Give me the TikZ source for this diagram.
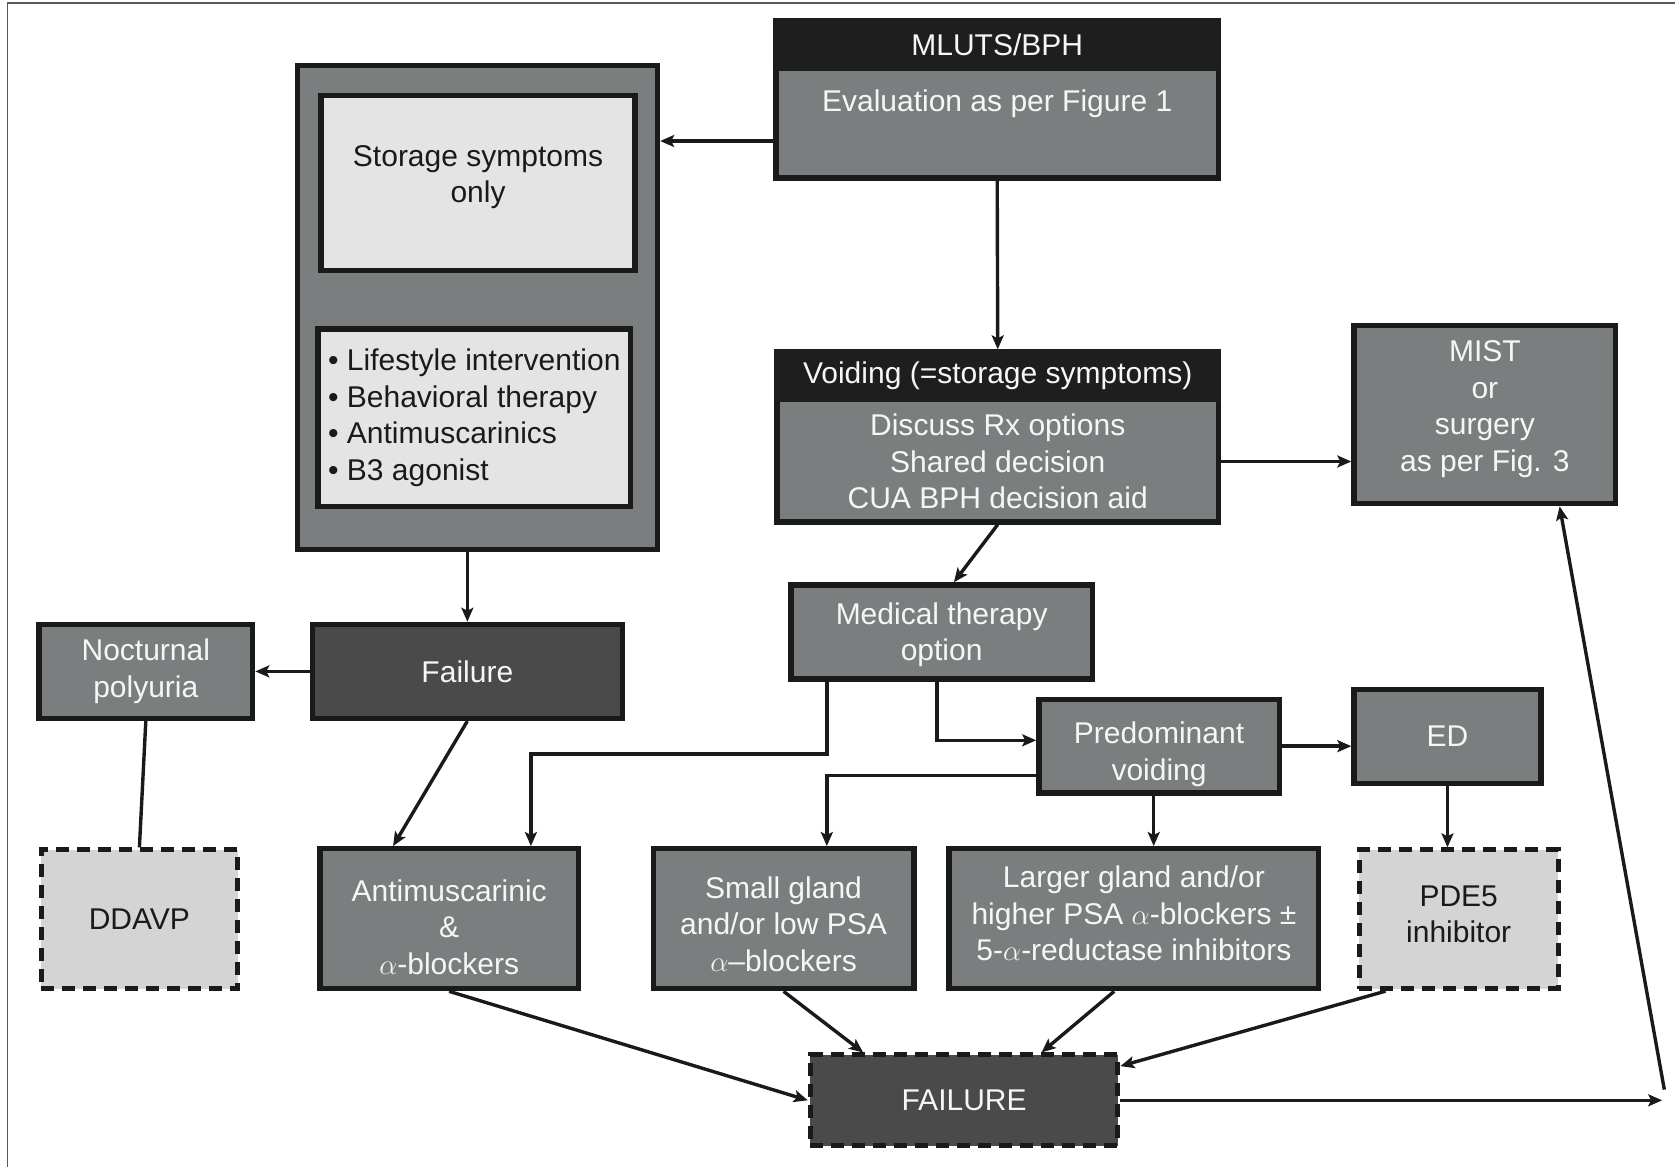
\documentclass[tikz,border=0pt]{standalone}
\usepackage{fontspec}
\setmainfont{Liberation Sans}
\usetikzlibrary{arrows.meta}

\definecolor{boxgray}{RGB}{123,126,127}
\definecolor{boxdark}{RGB}{74,74,74}
\definecolor{boxhead}{RGB}{30,30,30}
\definecolor{boxlight}{RGB}{228,228,228}
\definecolor{boxdash}{RGB}{212,212,212}
\definecolor{ink}{RGB}{26,26,26}
\definecolor{paper}{RGB}{246,246,246}

\begin{document}
\begin{tikzpicture}[x=0.534pt,y=-0.534pt,
  font=\fontsize{15}{18.2}\selectfont,
  sz/.style 2 args={minimum width=#1*0.534pt-2.7pt, minimum height=#2*0.534pt-2.7pt},
  base/.style={rectangle, draw=ink, line width=2.7pt, inner sep=0pt, align=center},
  graybox/.style={base, fill=boxgray, text=paper},
  darkbox/.style={base, fill=boxdark, text=paper},
  lightbox/.style={base, fill=boxlight, text=ink},
  dashbox/.style={base, fill=boxdash, text=ink, line width=2.5pt, dash pattern=on 6.5pt off 4pt},
  darkdash/.style={base, fill=boxdark, text=paper, line width=2.5pt, dash pattern=on 6.5pt off 4pt},
  headbox/.style={rectangle, fill=boxhead, text=paper, inner sep=0pt},
  bodytext/.style={inner sep=0pt, align=center, text=paper},
  darktext/.style={inner sep=0pt, align=center, text=ink},
  link/.style={draw=ink, line width=1.7pt, -{Stealth[length=7pt,width=6pt,inset=1.5pt]}},
  plain/.style={draw=ink, line width=1.7pt}]

\useasboundingbox (0,0) rectangle (1568,1092);

% frame
\draw[gray!70!black, line width=0.9pt] (7,1092) -- (7,3) -- (1568,3);

% helper coordinates for connector bends
\coordinate (y132) at (0,132);
\coordinate (y693) at (0,693);
\coordinate (y706) at (0,706);
\coordinate (y726) at (0,726);
\coordinate (y998) at (0,998);
\coordinate (x368) at (368,0);
\coordinate (x497) at (497,0);
\coordinate (x774) at (774,0);
\coordinate (x808) at (808,0);
\coordinate (x877) at (877,0);
\coordinate (x893) at (893,0);
\coordinate (x975) at (975,0);
\coordinate (x1043) at (1043,0);
\coordinate (x1080) at (1080,0);
\coordinate (x1297) at (1297,0);
\coordinate (x1460) at (1460,0);
\coordinate (outR) at (1556,1030);
\coordinate (upL) at (1558,1020);

% top box
\node[graybox, sz={419}{152}] (mluts) at (933.5,93) {};
\node[headbox, minimum width=419*0.534pt, minimum height=49*0.534pt] (mlutshead) at (933.5,41.5) {MLUTS/BPH};
\node[bodytext] (mlutsbody) at (933.5,97) {Evaluation as per Figure 1};

% storage branch
\node[graybox, sz={342}{458}] (storage) at (447,288) {};
\node[lightbox, sz={299}{169}] (storagetop) at (447.5,171.5) {};
\node[darktext] (storagetext) at (447.5,166) {Storage symptoms\\only};
\node[lightbox, sz={298}{171}, align=left] (storagelist) at (444,391)
  {\textbullet\ Lifestyle intervention\\\textbullet\ Behavioral therapy\\\textbullet\ Antimuscarinics\\\textbullet\ B3 agonist};

\node[darkbox, sz={295}{93}] (failure) at (437.5,628.5) {Failure};
\node[graybox, sz={205}{93}] (nocturnal) at (136.5,628.5) {Nocturnal\\polyuria};
\node[dashbox, sz={189}{135}] (ddavp) at (130.5,860.5) {DDAVP};
\node[graybox, sz={247}{136}] (antimus) at (420.5,860) {};
\node[bodytext] (antimustext) at (420.5,868) {Antimuscarinic\\\&\\$\alpha$-blockers};

% voiding branch
\node[graybox, sz={418}{164}] (voiding) at (934,409) {};
\node[headbox, minimum width=418*0.534pt, minimum height=49*0.534pt] (voidinghead) at (934,351.5) {Voiding (=storage symptoms)};
\node[bodytext] (voidingbody) at (934,432) {Discuss Rx options\\Shared decision\\CUA BPH decision aid};

\node[graybox, sz={250}{172}] (mist) at (1390,388) {};
\node[bodytext] (misttext) at (1390,383) {MIST\\or\\surgery\\as per Fig. 3};
\node[graybox, sz={287}{93}] (medical) at (881.5,591.5) {};
\node[bodytext] (medicaltext) at (881.5,594) {Medical therapy\\option};
\node[graybox, sz={230}{93}] (predom) at (1085,698.5) {};
\node[bodytext] (predomtext) at (1085,706) {Predominant\\voiding};
\node[graybox, sz={180}{93}] (ed) at (1355,689.5) {ED};
\node[dashbox, sz={191}{135}] (pde5) at (1365.5,860.5) {};
\node[darktext] (pde5text) at (1365.5,856) {PDE5\\inhibitor};
\node[graybox, sz={249}{136}] (small) at (733.5,860) {};
\node[bodytext] (smalltext) at (733.5,865) {Small gland\\and/or low PSA\\$\alpha$--blockers};
\node[graybox, sz={351}{136}] (larger) at (1061.5,860) {};
\node[bodytext] (largertext) at (1061.5,855) {Larger gland and/or\\higher PSA $\alpha$-blockers ±\\5-$\alpha$-reductase inhibitors};
\node[darkdash, sz={293}{90}] (final) at (902.5,1030) {FAILURE};

% connectors
\draw[link] (mluts.west |- y132) -- (storage.east |- y132);
\draw[link] (mluts.south) -- (voiding.north);
\draw[link] (voiding.east |- voidingbody) -- (mist.west |- voidingbody);
\draw[link] (voiding.south) -- (medical.north -| x893);
\draw[link] (storage.south -| failure.north) -- (failure.north);
\draw[link] (failure.west) -- (nocturnal.east |- failure.west);
\draw[plain] (nocturnal.south) -- (ddavp.north);
\draw[link] (failure.south) -- (antimus.north -| x368);
\draw[link] (medical.south -| x774) -- (x774 |- y706) -- (x497 |- y706) -- (antimus.north -| x497);
\draw[link] (medical.south -| x877) |- (predom.west |- y693);
\draw[link] (predom.west |- y726) -| (small.north -| x774);
\draw[link] (predom.south -| x1080) -- (larger.north -| x1080);
\draw[link] (predom.east) -- (ed.west |- predom.east);
\draw[link] (ed.south) -- (pde5.north -| ed.south);
\draw[link] (antimus.south) -- (final.west);
\draw[link] (small.south) -- (final.north -| x808);
\draw[link] (larger.south -| x1043) -- (final.north -| x975);
\draw[link] (pde5.south -| x1297) -- (final.east |- y998);
\draw[link] (final.east) -- (outR);
\draw[link] (upL) -- (mist.south -| x1460);

\end{tikzpicture}
\end{document}
